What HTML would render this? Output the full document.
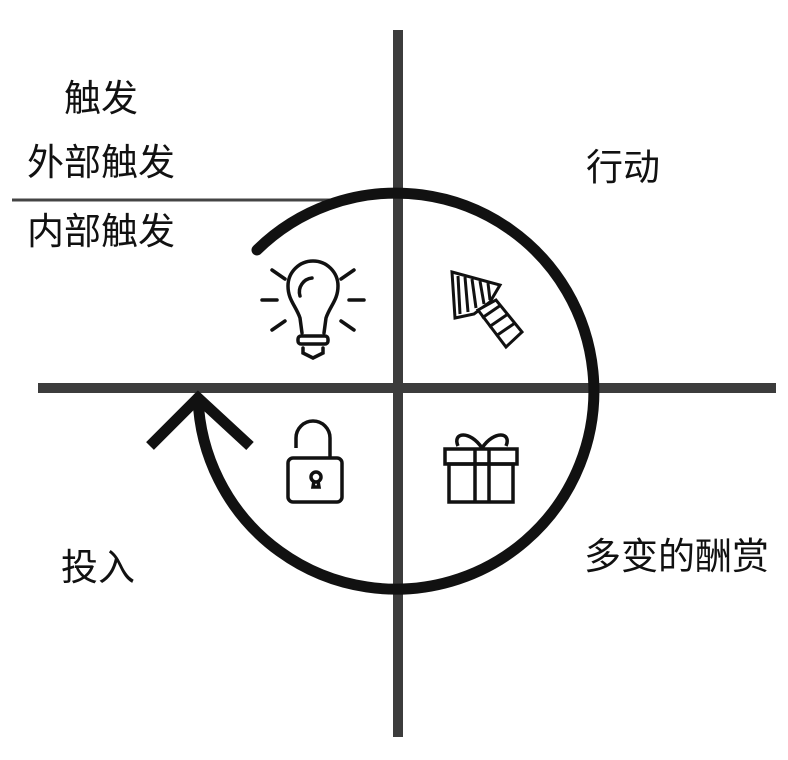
<!DOCTYPE html>
<html><head><meta charset="utf-8"><style>
html,body{margin:0;padding:0;background:#fff;}
body{width:788px;height:760px;position:relative;overflow:hidden;font-family:"Liberation Sans","Noto Sans CJK SC",sans-serif;}
.t{position:absolute;font-size:37px;color:#111;line-height:1;white-space:nowrap;}
</style></head><body>
<svg width="788" height="760" style="position:absolute;left:0;top:0">
<line x1="12" y1="200" x2="330" y2="200" stroke="#444" stroke-width="3"/>
<line x1="398" y1="30" x2="398" y2="737" stroke="#3c3c3c" stroke-width="10"/>
<line x1="38" y1="388" x2="776" y2="388" stroke="#3c3c3c" stroke-width="10"/>
<path d="M257,250 A198,198 0 1 1 198,398" fill="none" stroke="#111" stroke-width="11" stroke-linecap="round"/>
<polyline points="150,446 198,398 250,446" fill="none" stroke="#111" stroke-width="11"/>
<g fill="none" stroke="#111" stroke-width="3.5" stroke-linecap="round">
<path d="M302,333 L300,318 C296,306 288,300 288,286 A25,25 0 0 1 338,286 C338,300 330,306 326,318 L324,333"/>
<path d="M300,296 A14,14 0 0 1 312,278"/>
<rect x="298" y="336" width="30" height="8" rx="3"/>
<path d="M303,348 L303,353 L313,358 L323,353 L323,348"/>
<line x1="262" y1="300" x2="277" y2="300"/><line x1="349" y1="300" x2="364" y2="300"/>
<line x1="272" y1="270" x2="285" y2="279"/><line x1="354" y1="270" x2="341" y2="279"/>
<line x1="272" y1="330" x2="285" y2="321"/><line x1="354" y1="330" x2="341" y2="321"/>
</g>
<g stroke="#111" stroke-width="3" fill="none">
<path d="M452,272 L500,285 L490,302 L474,314 L455,318 Z" fill="#fff"/>
<line x1="458" y1="276" x2="460" y2="314"/><line x1="465" y1="277" x2="468" y2="312"/><line x1="472" y1="279" x2="476" y2="308"/><line x1="480" y1="281" x2="484" y2="304"/><line x1="488" y1="283" x2="490" y2="300"/>
<path d="M478,310 L496,300 L522,332 L506,347 Z" fill="#fff"/>
<line x1="482" y1="318" x2="501" y2="305"/><line x1="489" y1="327" x2="508" y2="314"/><line x1="496" y1="336" x2="515" y2="323"/>
</g>
<g fill="none" stroke="#111" stroke-width="3.5">
<path d="M296,448 L296,438 A17,17 0 0 1 330,438 L330,458"/>
<rect x="288" y="458" width="54" height="44" rx="5"/>
<circle cx="316" cy="477" r="5"/><path d="M314,481 L313,487 L319,487 L318,481"/>
</g>
<g fill="none" stroke="#111" stroke-width="3.5">
<rect x="445" y="449" width="72" height="15"/>
<rect x="449" y="464" width="64" height="38"/>
<line x1="475" y1="449" x2="475" y2="502"/><line x1="489" y1="449" x2="489" y2="502"/>
<path d="M482,448 C470,430 452,432 458,446"/><path d="M482,448 C494,430 512,432 506,446"/>
</g>
</svg>
<div class="t" style="left:64px;top:80px">触发</div>
<div class="t" style="left:27px;top:144px">外部触发</div>
<div class="t" style="left:27px;top:213px">内部触发</div>
<div class="t" style="left:586px;top:149px">行动</div>
<div class="t" style="left:61px;top:549px">投入</div>
<div class="t" style="left:584px;top:538px">多变的酬赏</div>
</body></html>
